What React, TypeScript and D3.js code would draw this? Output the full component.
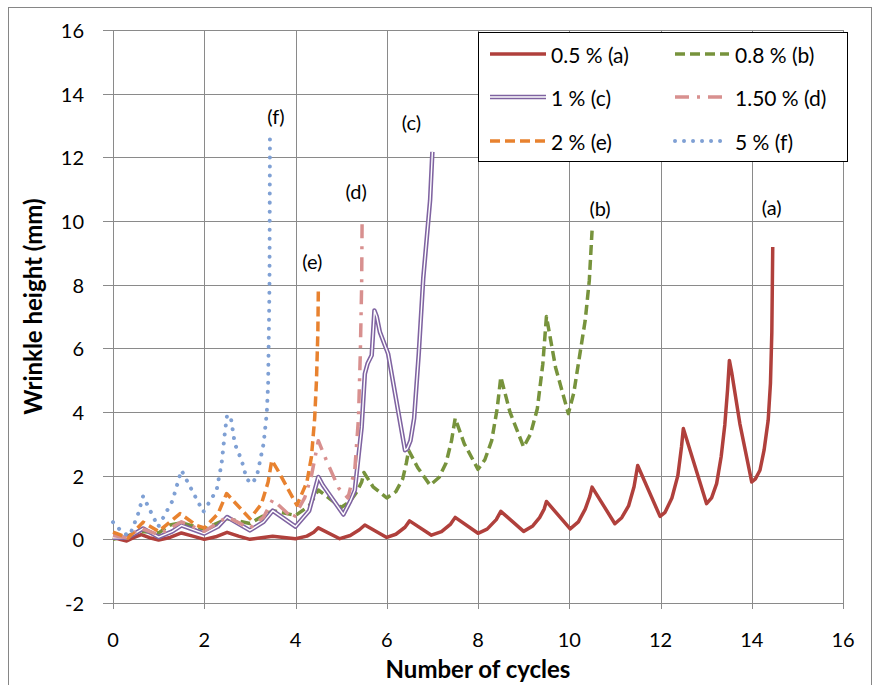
import React from "react";
import * as d3 from "d3";

type Pt = [number, number];

const X_TICKS = [0, 2, 4, 6, 8, 10, 12, 14, 16];
const Y_TICKS = [-2, 0, 2, 4, 6, 8, 10, 12, 14, 16];
const X_TITLE = "Number of cycles";
const Y_TITLE = "Wrinkle height (mm)";

const SERIES_NAMES = ["0.5 % (a)", "0.8 % (b)", "1 % (c)", "1.50 % (d)", "2 % (e)", "5 % (f)"];
const SERIES_TAGS = ["(a)", "(b)", "(c)", "(d)", "(e)", "(f)"];

// 0.5 % (a)
const S_A: Pt[] = [
  [0, 0.06], [0.15, 0.0], [0.3, -0.05], [0.45, 0.05], [0.62, 0.15], [0.8, 0.05], [1.0, -0.02],
  [1.25, 0.06], [1.5, 0.2], [1.75, 0.1], [2.0, 0.0], [2.25, 0.08], [2.5, 0.22], [2.75, 0.1], [3.0, 0.0],
  [3.25, 0.05], [3.5, 0.1], [3.75, 0.06], [4.0, 0.02], [4.25, 0.1], [4.4, 0.22], [4.5, 0.36],
  [4.97, 0.02], [5.2, 0.12], [5.4, 0.3], [5.52, 0.45], [6.0, 0.06], [6.2, 0.16], [6.4, 0.38],
  [6.5, 0.58], [6.98, 0.13], [7.2, 0.24], [7.4, 0.48], [7.5, 0.69], [8.0, 0.19], [8.2, 0.32],
  [8.4, 0.62], [8.5, 0.88], [9.0, 0.25], [9.2, 0.42], [9.35, 0.68], [9.45, 0.95], [9.5, 1.19],
  [10.02, 0.33], [10.2, 0.55], [10.35, 0.95], [10.45, 1.35], [10.5, 1.64], [11.0, 0.49],
  [11.15, 0.68], [11.3, 1.05], [11.42, 1.65], [11.5, 2.32], [11.99, 0.72], [12.1, 0.85],
  [12.25, 1.3], [12.38, 2.0], [12.46, 2.9], [12.5, 3.48], [13.01, 1.12], [13.12, 1.3], [13.23, 1.75],
  [13.33, 2.6], [13.41, 3.6], [13.47, 4.7], [13.51, 5.62], [13.56, 5.25], [13.74, 3.63], [14.0, 1.8],
  [14.08, 1.9], [14.18, 2.17], [14.27, 2.8], [14.36, 3.74], [14.41, 4.9], [14.44, 6.5], [14.46, 9.18],
];

// 0.8 % (b)
const S_B: Pt[] = [
  [0, 0.0], [0.3, 0.1], [0.6, 0.25], [1.0, 0.2], [1.25, 0.45], [1.5, 0.52], [2.0, 0.32], [2.5, 0.65],
  [3.0, 0.5], [3.5, 0.9], [4.0, 0.75], [4.3, 1.05], [4.5, 1.55], [5.0, 1.0], [5.2, 1.2], [5.35, 1.5],
  [5.45, 1.8], [5.5, 2.1], [5.7, 1.65], [6.0, 1.3], [6.2, 1.5], [6.35, 1.9], [6.43, 2.4], [6.48, 2.8],
  [6.68, 2.25], [6.95, 1.7], [7.15, 1.95], [7.3, 2.4], [7.42, 3.1], [7.5, 3.8], [7.7, 3.0], [8.0, 2.2],
  [8.15, 2.5], [8.3, 3.1], [8.42, 4.1], [8.5, 5.1], [8.7, 4.0], [9.0, 2.9], [9.15, 3.3], [9.3, 4.1],
  [9.42, 5.5], [9.5, 7.0], [9.7, 5.4], [9.98, 3.95], [10.1, 4.6], [10.2, 5.52], [10.35, 6.88],
  [10.44, 8.14], [10.5, 9.7],
];

// 1 % (c)
const S_C: Pt[] = [
  [0, 0.05], [0.3, 0.05], [0.5, 0.2], [0.66, 0.34], [1.0, 0.07], [1.3, 0.25], [1.5, 0.44], [2.0, 0.18],
  [2.3, 0.4], [2.5, 0.7], [3.0, 0.28], [3.3, 0.55], [3.5, 0.9], [4.0, 0.4], [4.3, 0.9], [4.5, 1.96],
  [4.6, 1.7], [5.05, 0.78], [5.2, 1.2], [5.3, 1.54], [5.45, 3.53], [5.52, 5.2], [5.58, 5.52],
  [5.67, 5.78], [5.73, 7.19], [5.78, 7.0], [5.85, 6.51], [6.03, 5.83], [6.4, 2.8], [6.45, 2.85],
  [6.52, 3.1], [6.6, 3.8], [6.7, 5.8], [6.8, 8.2], [6.95, 10.65], [7.0, 12.17],
];

// 1.50 % (d)
const S_D: Pt[] = [
  [0, 0.12], [0.3, 0.05], [0.6, 0.35], [1.0, 0.15], [1.5, 0.55], [2.0, 0.25], [2.5, 0.7], [3.0, 0.35],
  [3.3, 0.7], [3.5, 1.25], [3.95, 0.65], [4.2, 1.3], [4.35, 2.0], [4.5, 3.1], [4.7, 2.4], [4.95, 1.6],
  [5.15, 1.3], [5.3, 2.2], [5.38, 3.8], [5.42, 5.8], [5.45, 8.0], [5.46, 10.05],
];

// 2 % (e)
const S_E: Pt[] = [
  [0, 0.23], [0.33, 0.04], [0.66, 0.54], [1.0, 0.25], [1.47, 0.81], [1.83, 0.44], [2.0, 0.36],
  [2.3, 0.8], [2.49, 1.44], [3.0, 0.65], [3.25, 1.1], [3.4, 1.8], [3.48, 2.48], [3.6, 2.2], [4.03, 1.07],
  [4.25, 1.8], [4.35, 2.6], [4.42, 3.8], [4.46, 5.0], [4.49, 6.5], [4.5, 7.82],
];

// 5 % (f)
const S_F: Pt[] = [
  [0, 0.54], [0.23, 0.18], [0.37, 0.13], [0.55, 0.8], [0.66, 1.36], [0.99, 0.39], [1.3, 1.2],
  [1.5, 2.17], [1.98, 0.86], [2.27, 1.54], [2.38, 2.38], [2.45, 3.32], [2.5, 3.9], [2.58, 3.85],
  [2.67, 3.0], [2.82, 2.48], [2.93, 1.9], [3.04, 1.75], [3.15, 1.96], [3.3, 3.0], [3.37, 3.95],
  [3.4, 4.89], [3.43, 8.0], [3.44, 12.66],
];

const SERIES: Pt[][] = [S_A, S_B, S_C, S_D, S_E, S_F];

type Style = {
  color: string;
  width: number;
  dash?: string;
  cap?: "butt" | "round" | "square";
  double?: boolean;
  tagDx: number;
  tagDy: number;
};

const STYLES: Style[] = [
  { color: "#B0403C", width: 3.5, tagDx: -1, tagDy: -40 },
  { color: "#77933C", width: 3.5, dash: "10 5", tagDx: 8, tagDy: -23 },
  { color: "#7F63A1", width: 4.5, double: true, tagDx: -21, tagDy: -30 },
  { color: "#D8908F", width: 3.5, dash: "14 8 3 8", tagDx: -6, tagDy: -28 },
  { color: "#E8822F", width: 3.5, dash: "10 5", tagDx: -6, tagDy: -29 },
  { color: "#7FA0D4", width: 4, dash: "0.01 9", cap: "round", tagDx: 6, tagDy: -20 },
];

const FONT = "Lato, 'Open Sans', sans-serif";

export default function App() {
  const left = 113, right = 843, top = 30, bottom = 603;
  const x = d3.scaleLinear().domain([0, 16]).range([left, right]);
  const y = d3.scaleLinear().domain([-2, 16]).range([bottom, top]);
  const line = d3
    .line<Pt>()
    .x((d) => x(d[0]))
    .y((d) => y(d[1]))
    .curve(d3.curveLinear);

  const gridColor = "#8A8A8A";

  const legendRows = [54, 97, 141];
  const legendCols = [
    { x1: 490, x2: 546, tx: 551 },
    { x1: 675, x2: 729, tx: 735 },
  ];

  const renderPath = (d: string, s: Style, key: string) => {
    if (s.double) {
      return (
        <g key={key}>
          <path d={d} fill="none" stroke={s.color} strokeWidth={s.width} strokeLinejoin="round" />
          <path d={d} fill="none" stroke="#ffffff" strokeWidth={1.4} strokeLinejoin="round" />
        </g>
      );
    }
    return (
      <path
        key={key}
        d={d}
        fill="none"
        stroke={s.color}
        strokeWidth={s.width}
        strokeDasharray={s.dash}
        strokeLinecap={s.cap || "butt"}
        strokeLinejoin="round"
      />
    );
  };

  return (
    <svg
      width={880}
      height={685}
      style={{ position: "absolute", left: 0, top: 0, background: "#fff" }}
      fontFamily={FONT}
    >
      <rect x={0} y={0} width={880} height={685} fill="#fff" />
      <rect x={8.5} y={7.5} width={863} height={700} fill="none" stroke="#868686" strokeWidth={1} />

      {/* gridlines */}
      {Y_TICKS.map((t) => (
        <line key={"gy" + t} x1={left - 10} x2={right} y1={Math.round(y(t)) + 0.5} y2={Math.round(y(t)) + 0.5} stroke={gridColor} strokeWidth={1} />
      ))}
      {X_TICKS.map((t) => (
        <line key={"gx" + t} x1={Math.round(x(t)) + 0.5} x2={Math.round(x(t)) + 0.5} y1={top} y2={bottom + 6} stroke={gridColor} strokeWidth={1} />
      ))}

      {/* tick labels */}
      {Y_TICKS.map((t) => (
        <text key={"ty" + t} x={84} y={y(t)} textAnchor="end" dominantBaseline="central" fontSize={20} fill="#000">
          {t}
        </text>
      ))}
      {X_TICKS.map((t) => (
        <text key={"tx" + t} x={x(t)} y={639} textAnchor="middle" dominantBaseline="central" fontSize={20} fill="#000">
          {t}
        </text>
      ))}

      {/* axis titles */}
      <text x={(left + right) / 2} y={678} textAnchor="middle" fontSize={24} fontWeight="bold" fill="#000">
        {X_TITLE}
      </text>
      <text
        transform={`translate(42, ${(top + bottom) / 2 - 10}) rotate(-90)`}
        textAnchor="middle"
        fontSize={24}
        fontWeight="bold"
        fill="#000"
      >
        {Y_TITLE}
      </text>

      {/* series */}
      {SERIES.map((s, i) => renderPath(line(s) || "", STYLES[i], "s" + i))}

      {/* series tags */}
      {SERIES.map((s, i) => {
        const last = s[s.length - 1];
        return (
          <text
            key={"tag" + i}
            x={x(last[0]) + STYLES[i].tagDx}
            y={y(last[1]) + STYLES[i].tagDy}
            textAnchor="middle"
            dominantBaseline="central"
            fontSize={20}
            fill="#000"
          >
            {SERIES_TAGS[i]}
          </text>
        );
      })}

      {/* legend */}
      <rect x={478.5} y={32.5} width={369} height={129} fill="#fff" stroke="#000" strokeWidth={1} />
      {SERIES_NAMES.map((name, i) => {
        const row = Math.floor(i / 2);
        const col = i % 2;
        const ly = legendRows[row];
        const c = legendCols[col];
        const d = `M${c.x1},${ly}L${c.x2},${ly}`;
        return (
          <g key={"lg" + i}>
            {renderPath(d, STYLES[i], "lgp" + i)}
            <text x={c.tx} y={ly} dominantBaseline="central" fontSize={21} fill="#000">
              {name}
            </text>
          </g>
        );
      })}
    </svg>
  );
}
